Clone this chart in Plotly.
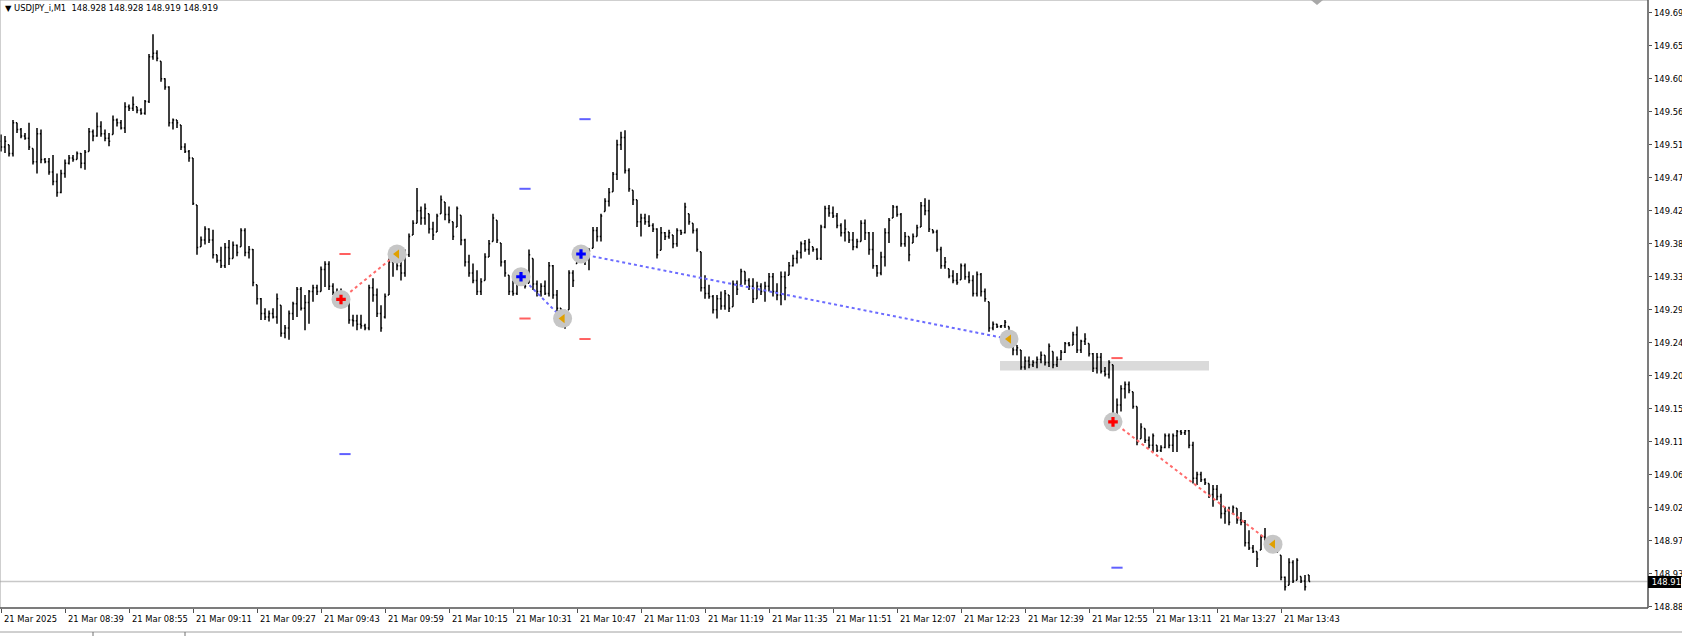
import plotly.graph_objects as go

# ---------------- data (USDJPY_i, M1, bars from 08:23) ----------------
bar_index = list(range(328))

opens = [149.520,149.512,149.515,149.503,149.545,149.536,149.527,149.524,149.510,149.492,
149.530,149.495,149.492,149.478,149.465,149.450,149.476,149.490,149.497,149.495,
149.503,149.490,149.506,149.533,149.527,149.540,149.530,149.524,149.529,149.549,
149.545,149.538,149.567,149.565,149.567,149.562,149.558,149.574,149.635,149.640,
149.629,149.605,149.594,149.545,149.549,149.542,149.512,149.506,149.497,149.433,
149.376,149.385,149.400,149.385,149.365,149.357,149.350,149.375,149.360,149.378,
149.376,149.398,149.368,149.372,149.324,149.305,149.285,149.280,149.285,149.280,
149.296,149.258,149.265,149.285,149.298,149.318,149.292,149.300,149.315,149.320,
149.315,149.345,149.352,149.322,149.314,149.310,149.305,149.298,149.276,149.275,
149.270,149.268,149.265,149.320,149.310,149.285,149.280,149.310,149.355,149.368,
149.350,149.340,149.365,149.392,149.408,149.425,149.415,149.421,149.400,149.396,
149.421,149.437,149.420,149.410,149.403,149.419,149.385,149.355,149.340,149.330,
149.315,149.330,149.362,149.383,149.412,149.381,149.355,149.337,149.315,149.312,
149.325,149.333,149.326,149.360,149.325,149.315,149.322,149.312,149.350,149.310,
149.292,149.282,149.290,149.340,149.353,149.371,149.365,149.360,149.374,149.398,
149.390,149.424,149.438,149.451,149.475,149.515,149.525,149.480,149.453,149.440,
149.410,149.415,149.410,149.405,149.400,149.371,149.395,149.390,149.392,149.380,
149.398,149.395,149.421,149.408,149.398,149.369,149.320,149.312,149.308,149.290,
149.305,149.295,149.310,149.294,149.325,149.324,149.342,149.330,149.322,149.305,
149.322,149.315,149.322,149.335,149.315,149.310,149.335,149.337,149.350,149.360,
149.368,149.380,149.372,149.376,149.372,149.360,149.403,149.428,149.422,149.418,
149.405,149.395,149.396,149.385,149.376,149.383,149.408,149.395,149.372,149.350,
149.340,149.362,149.395,149.415,149.430,149.420,149.380,149.390,149.381,149.390,
149.403,149.432,149.425,149.399,149.396,149.372,149.350,149.346,149.336,149.330,
149.331,149.350,149.335,149.330,149.312,149.338,149.315,149.301,149.265,149.270,
149.267,149.268,149.267,149.244,149.235,149.235,149.212,149.220,149.215,149.218,
149.222,149.228,149.218,149.233,149.215,149.222,149.232,149.244,149.242,149.256,
149.235,149.247,149.244,149.230,149.210,149.225,149.206,149.202,149.215,149.137,
149.160,149.182,149.188,149.178,149.158,149.114,149.128,149.112,149.105,149.105,
149.098,149.102,149.118,149.105,149.118,149.124,149.122,149.125,149.105,149.060,
149.065,149.058,149.053,149.038,149.045,149.035,149.012,149.015,149.012,149.019,
149.003,149.000,148.972,148.965,148.960,148.962,148.980,148.975,148.970,148.967,
148.955,148.925,148.914,148.945,148.921,148.926,148.920,148.928]

highs = [149.529,149.527,149.515,149.549,149.545,149.538,149.531,149.545,149.510,149.538,
149.536,149.497,149.497,149.501,149.476,149.481,149.495,149.501,149.501,149.506,
149.504,149.508,149.538,149.536,149.559,149.547,149.536,149.531,149.555,149.551,
149.549,149.573,149.570,149.581,149.567,149.565,149.576,149.639,149.666,149.644,
149.629,149.606,149.595,149.551,149.549,149.542,149.517,149.508,149.497,149.433,
149.390,149.404,149.401,149.399,149.365,149.376,149.381,149.385,149.383,149.379,
149.401,149.401,149.377,149.373,149.324,149.306,149.292,149.289,149.292,149.312,
149.296,149.269,149.289,149.301,149.321,149.321,149.310,149.317,149.324,149.324,
149.349,149.356,149.356,149.326,149.319,149.319,149.312,149.308,149.283,149.283,
149.283,149.271,149.324,149.333,149.319,149.296,149.312,149.360,149.376,149.372,
149.374,149.372,149.394,149.412,149.456,149.431,149.435,149.421,149.410,149.421,
149.446,149.437,149.431,149.410,149.431,149.419,149.387,149.365,149.353,149.344,
149.333,149.367,149.385,149.421,149.412,149.381,149.358,149.337,149.330,149.330,
149.342,149.333,149.372,149.360,149.330,149.326,149.330,149.355,149.351,149.317,
149.292,149.290,149.344,149.344,149.376,149.371,149.367,149.374,149.403,149.403,
149.421,149.442,149.456,149.478,149.522,149.533,149.535,149.483,149.453,149.440,
149.421,149.421,149.419,149.408,149.401,149.403,149.396,149.399,149.392,149.401,
149.399,149.436,149.421,149.408,149.401,149.369,149.337,149.324,149.310,149.310,
149.315,149.317,149.310,149.330,149.330,149.346,149.342,149.333,149.333,149.328,
149.326,149.328,149.340,149.340,149.326,149.342,149.342,149.355,149.365,149.371,
149.383,149.385,149.387,149.376,149.374,149.406,149.432,149.433,149.431,149.422,
149.408,149.413,149.396,149.396,149.387,149.412,149.413,149.396,149.396,149.351,
149.369,149.401,149.415,149.433,149.432,149.422,149.396,149.390,149.394,149.406,
149.437,149.442,149.440,149.399,149.399,149.376,149.362,149.346,149.344,149.340,
149.353,149.353,149.342,149.337,149.342,149.340,149.319,149.301,149.274,149.271,
149.269,149.276,149.267,149.244,149.242,149.235,149.226,149.226,149.221,149.226,
149.233,149.228,149.244,149.233,149.226,149.235,149.246,149.246,149.260,149.267,
149.249,149.258,149.244,149.231,149.231,149.231,149.212,149.221,149.215,149.169,
149.187,149.192,149.192,149.178,149.158,149.135,149.128,149.117,149.121,149.105,
149.105,149.121,149.121,149.121,149.126,149.126,149.126,149.126,149.110,149.069,
149.069,149.060,149.053,149.051,149.051,149.039,149.021,149.021,149.023,149.019,
149.014,149.003,148.989,148.969,148.960,148.983,148.992,148.980,148.976,148.967,
148.955,148.926,148.951,148.948,148.951,148.926,148.928,148.928]

lows = [149.506,149.504,149.499,149.499,149.531,149.524,149.522,149.508,149.488,149.476,
149.490,149.490,149.474,149.460,149.444,149.449,149.470,149.488,149.492,149.495,
149.483,149.481,149.506,149.520,149.526,149.526,149.520,149.513,149.529,149.540,
149.536,149.531,149.561,149.561,149.558,149.556,149.556,149.572,149.631,149.629,
149.601,149.590,149.540,149.536,149.538,149.508,149.504,149.492,149.433,149.365,
149.376,149.379,149.381,149.360,149.354,149.347,149.347,149.351,149.360,149.363,
149.376,149.363,149.360,149.322,149.297,149.276,149.276,149.274,149.278,149.271,
149.253,149.251,149.249,149.276,149.280,149.289,149.262,149.271,149.301,149.310,
149.315,149.321,149.317,149.310,149.305,149.301,149.296,149.271,149.267,149.262,
149.264,149.262,149.262,149.301,149.280,149.260,149.278,149.310,149.335,149.344,
149.330,149.335,149.362,149.392,149.408,149.406,149.406,149.394,149.385,149.396,
149.421,149.412,149.408,149.385,149.403,149.378,149.349,149.335,149.326,149.310,
149.310,149.330,149.362,149.383,149.381,149.349,149.335,149.310,149.309,149.310,
149.324,149.319,149.326,149.317,149.308,149.308,149.310,149.308,149.305,149.287,
149.278,149.264,149.290,149.321,149.353,149.355,149.351,149.344,149.374,149.383,
149.383,149.424,149.431,149.451,149.467,149.508,149.476,149.451,149.433,149.403,
149.390,149.406,149.403,149.396,149.360,149.371,149.385,149.387,149.374,149.376,
149.392,149.394,149.406,149.394,149.369,149.315,149.305,149.305,149.285,149.278,
149.290,149.290,149.287,149.294,149.310,149.324,149.324,149.317,149.299,149.305,
149.310,149.301,149.315,149.308,149.303,149.296,149.303,149.337,149.349,149.353,
149.360,149.369,149.365,149.369,149.358,149.358,149.401,149.417,149.415,149.401,
149.390,149.383,149.381,149.371,149.374,149.383,149.385,149.365,149.346,149.335,
149.337,149.349,149.381,149.415,149.417,149.376,149.376,149.356,149.381,149.390,
149.403,149.419,149.396,149.394,149.369,149.346,149.346,149.333,149.326,149.324,
149.331,149.331,149.326,149.308,149.308,149.308,149.301,149.260,149.262,149.265,
149.265,149.265,149.242,149.228,149.228,149.208,149.208,149.210,149.212,149.210,
149.217,149.214,149.212,149.210,149.212,149.221,149.231,149.240,149.242,149.231,
149.231,149.242,149.226,149.205,149.203,149.203,149.199,149.196,149.135,149.130,
149.151,149.169,149.176,149.155,149.105,149.114,149.108,149.101,149.096,149.096,
149.096,149.101,149.101,149.096,149.096,149.119,149.119,149.101,149.053,149.051,
149.055,149.051,149.033,149.021,149.030,149.005,148.998,148.996,149.012,148.998,
148.996,148.967,148.962,148.958,148.939,148.962,148.967,148.967,148.962,148.958,
148.921,148.907,148.914,148.917,148.921,148.917,148.907,148.919]

closes = [149.512,149.520,149.503,149.545,149.536,149.527,149.524,149.512,149.492,149.530,
149.495,149.492,149.478,149.465,149.450,149.476,149.490,149.497,149.495,149.503,
149.490,149.505,149.533,149.527,149.540,149.530,149.524,149.520,149.549,149.545,
149.538,149.567,149.565,149.570,149.562,149.558,149.574,149.635,149.640,149.633,
149.605,149.594,149.545,149.549,149.545,149.512,149.506,149.497,149.435,149.375,
149.385,149.400,149.385,149.365,149.357,149.350,149.375,149.360,149.378,149.368,
149.398,149.368,149.372,149.327,149.305,149.285,149.280,149.285,149.280,149.305,
149.258,149.265,149.285,149.298,149.318,149.292,149.300,149.315,149.320,149.315,
149.345,149.352,149.322,149.314,149.310,149.305,149.298,149.276,149.275,149.270,
149.268,149.265,149.320,149.310,149.285,149.265,149.308,149.355,149.368,149.350,
149.340,149.365,149.390,149.408,149.425,149.415,149.428,149.400,149.392,149.418,
149.440,149.420,149.412,149.390,149.428,149.385,149.355,149.340,149.330,149.315,
149.328,149.362,149.380,149.415,149.385,149.355,149.340,149.315,149.312,149.325,
149.335,149.322,149.365,149.325,149.315,149.322,149.312,149.350,149.310,149.292,
149.282,149.270,149.340,149.330,149.372,149.365,149.360,149.370,149.398,149.390,
149.418,149.438,149.450,149.475,149.515,149.525,149.480,149.455,149.440,149.410,
149.415,149.410,149.405,149.400,149.365,149.395,149.390,149.395,149.380,149.398,
149.395,149.430,149.410,149.398,149.372,149.320,149.312,149.308,149.290,149.305,
149.295,149.312,149.292,149.325,149.318,149.342,149.330,149.322,149.305,149.322,
149.315,149.322,149.335,149.315,149.310,149.335,149.320,149.350,149.360,149.368,
149.380,149.372,149.382,149.372,149.360,149.403,149.428,149.422,149.418,149.405,
149.395,149.400,149.385,149.376,149.383,149.408,149.395,149.372,149.350,149.340,
149.362,149.395,149.412,149.430,149.420,149.380,149.390,149.365,149.390,149.402,
149.432,149.425,149.400,149.396,149.372,149.350,149.355,149.336,149.330,149.327,
149.350,149.335,149.330,149.312,149.338,149.315,149.305,149.265,149.270,149.267,
149.268,149.273,149.246,149.235,149.238,149.212,149.220,149.215,149.218,149.222,
149.228,149.218,149.240,149.215,149.222,149.232,149.244,149.242,149.256,149.235,
149.247,149.250,149.230,149.210,149.225,149.206,149.202,149.218,149.137,149.160,
149.182,149.188,149.180,149.158,149.110,149.130,149.112,149.105,149.118,149.098,
149.102,149.118,149.105,149.118,149.124,149.122,149.125,149.105,149.060,149.065,
149.058,149.054,149.038,149.045,149.035,149.012,149.015,149.000,149.020,149.003,
149.000,148.972,148.965,148.960,148.950,148.980,148.975,148.970,148.968,148.960,
148.925,148.912,148.945,148.920,148.948,148.920,148.912,148.919]

time_tick_index = [0, 16, 32, 48, 64, 80, 96, 112, 128, 144, 160, 176, 192, 208,
                   224, 240, 256, 272, 288, 304, 320]
time_tick_labels = ["21 Mar 2025", "21 Mar 08:39", "21 Mar 08:55", "21 Mar 09:11",
                    "21 Mar 09:27", "21 Mar 09:43", "21 Mar 09:59", "21 Mar 10:15",
                    "21 Mar 10:31", "21 Mar 10:47", "21 Mar 11:03", "21 Mar 11:19",
                    "21 Mar 11:35", "21 Mar 11:51", "21 Mar 12:07", "21 Mar 12:23",
                    "21 Mar 12:39", "21 Mar 12:55", "21 Mar 13:11", "21 Mar 13:27",
                    "21 Mar 13:43"]

price_ticks = [149.695, 149.650, 149.605, 149.560, 149.515, 149.470, 149.425, 149.380,
               149.335, 149.290, 149.245, 149.200, 149.155, 149.110, 149.065, 149.020,
               148.975, 148.930, 148.885]
price_tick_labels = ["149.69", "149.65", "149.60", "149.56", "149.51", "149.47", "149.42",
                     "149.38", "149.33", "149.29", "149.24", "149.20", "149.15", "149.11",
                     "149.06", "149.02", "148.97", "148.93", "148.88"]

# trades
trade_side = ["sell", "buy", "buy", "sell"]
trade_open_index = [85, 130, 145, 278]
trade_open_price = [149.304, 149.335, 149.366, 149.137]
trade_close_index = [99, 140.4, 252, 318]
trade_close_price = [149.366, 149.278, 149.250, 148.970]
trade_sl = [149.366, 149.278, 149.250, 149.224]
trade_tp = [149.093, 149.455, 149.550, 148.938]

zone_start, zone_end = 249.75, 302
zone_low, zone_high = 149.207, 149.220

last_price = 148.919
last_price_label = "148.91"
title_text = "USDJPY_i,M1  148.928 148.928 148.919 148.919"

# ---------------- figure ----------------
W, H = 1682, 636
ML, MR, MT, MB = 0, 34, 0, 28
PLOT_W = W - ML - MR
PLOT_H = H - MT - MB
X_RANGE = [-0.25, 411.75]
Y_RANGE = [148.883, 149.7126]
FONT = "DejaVu Sans"
FSIZE = 8.4


def px2paper_y(py):
    return (MT + PLOT_H - py) / PLOT_H


def px2paper_x(px):
    return (px - ML) / PLOT_W


fig = go.Figure()

fig.add_trace(go.Ohlc(
    x=bar_index, open=opens, high=highs, low=lows, close=closes,
    increasing=dict(line=dict(color="#000000", width=1.5)),
    decreasing=dict(line=dict(color="#000000", width=1.5)),
    tickwidth=0.3, hoverinfo="skip", showlegend=False,
))

RED_LINE = "#ff6b6b"
BLUE_LINE = "#6b6bff"

# connection lines (dotted)
for side, ox, op, cx, cp in zip(trade_side, trade_open_index, trade_open_price,
                                trade_close_index, trade_close_price):
    fig.add_trace(go.Scatter(
        x=[ox, cx], y=[op, cp], mode="lines",
        line=dict(color=RED_LINE if side == "sell" else BLUE_LINE, width=2, dash="dot"),
        hoverinfo="skip", showlegend=False))

# gray halos
fig.add_trace(go.Scatter(
    x=trade_open_index + trade_close_index,
    y=trade_open_price + trade_close_price,
    mode="markers", marker=dict(symbol="circle", size=19, color="#c6c6c6"),
    hoverinfo="skip", showlegend=False))

# open markers
fig.add_trace(go.Scatter(
    x=trade_open_index, y=trade_open_price, mode="markers",
    marker=dict(symbol="cross", size=8,
                color=["#ff0000" if s == "sell" else "#0000ff" for s in trade_side],
                line=dict(width=0)),
    hoverinfo="skip", showlegend=False))

# close markers
fig.add_trace(go.Scatter(
    x=trade_close_index, y=trade_close_price, mode="markers",
    marker=dict(symbol="triangle-left", size=8, color="#e0a000", line=dict(width=0)),
    hoverinfo="skip", showlegend=False))

# SL / TP level dashes
lvl_x = [i + 1 for i in trade_open_index]
fig.add_trace(go.Scatter(
    x=lvl_x, y=trade_sl, mode="markers",
    marker=dict(symbol="line-ew", size=8, line=dict(color="#ff6060", width=2)),
    hoverinfo="skip", showlegend=False))
fig.add_trace(go.Scatter(
    x=lvl_x, y=trade_tp, mode="markers",
    marker=dict(symbol="line-ew", size=8, line=dict(color="#6060ff", width=2)),
    hoverinfo="skip", showlegend=False))

shapes = []
# zone rectangle
shapes.append(dict(type="rect", xref="x", yref="y", x0=zone_start, x1=zone_end,
                   y0=zone_low, y1=zone_high, fillcolor="#dadada",
                   line=dict(width=0), layer="below"))
# current price line
shapes.append(dict(type="line", xref="paper", yref="y", x0=0, x1=1,
                   y0=last_price, y1=last_price,
                   line=dict(color="#c8c8c8", width=1.5), layer="below"))

# borders
shapes.append(dict(type="line", xref="paper", yref="paper", x0=0, x1=0, y0=0, y1=1,
                   line=dict(color="#a0a0a0", width=1)))
shapes.append(dict(type="line", xref="paper", yref="paper", x0=0, x1=1, y0=1, y1=1,
                   line=dict(color="#a0a0a0", width=1)))
shapes.append(dict(type="line", xref="paper", yref="paper", x0=1, x1=1, y0=0, y1=1,
                   line=dict(color="#505050", width=1.5)))
shapes.append(dict(type="line", xref="paper", yref="paper", x0=0, x1=1, y0=0, y1=0,
                   line=dict(color="#505050", width=1.5)))

# chart-shift marker (top)
shapes.append(dict(type="path", xref="x", yref="paper",
                   path=f"M 327.5 1 L 330.5 1 L 329 {px2paper_y(5)} Z",
                   fillcolor="#a8a8a8", line=dict(width=0)))

# bottom tab bar
shapes.append(dict(type="line", xref="paper", yref="paper", x0=0, x1=px2paper_x(W),
                   y0=px2paper_y(632), y1=px2paper_y(632),
                   line=dict(color="#a0a0a0", width=1)))
for tab_px in (93, 185):
    shapes.append(dict(type="line", xref="paper", yref="paper",
                       x0=px2paper_x(tab_px), x1=px2paper_x(tab_px),
                       y0=px2paper_y(632), y1=px2paper_y(636),
                       line=dict(color="#707070", width=1)))

annotations = []
# time labels (left-aligned just right of their tick)
for ti, tl in zip(time_tick_index, time_tick_labels):
    annotations.append(dict(xref="x", yref="paper", x=ti, y=px2paper_y(619),
                            xanchor="left", yanchor="middle", xshift=1,
                            text=tl, showarrow=False,
                            font=dict(family=FONT, size=FSIZE, color="#000000")))
# price labels
for pv, pl in zip(price_ticks, price_tick_labels):
    annotations.append(dict(xref="paper", yref="y", x=px2paper_x(1652), y=pv,
                            xanchor="left", yanchor="middle",
                            text=pl, showarrow=False,
                            font=dict(family=FONT, size=FSIZE, color="#000000")))
# current price label (black box drawn over the neighbouring tick label)
annotations.append(dict(xref="paper", yref="y", x=1, y=last_price,
                        xanchor="left", yanchor="middle", text=last_price_label,
                        showarrow=False, width=33, height=12, align="right",
                        bgcolor="#000000", borderpad=0, borderwidth=0,
                        font=dict(family=FONT, size=FSIZE, color="#ffffff")))
annotations.append(dict(xref="paper", yref="paper", x=px2paper_x(3), y=px2paper_y(1),
                        xanchor="left", yanchor="top", showarrow=False,
                        text="\u25BC " + title_text.replace("  ", "&nbsp; "),
                        font=dict(family=FONT, size=FSIZE, color="#000000")))

fig.update_layout(
    width=W, height=H,
    margin=dict(l=ML, r=MR, t=MT, b=MB, pad=0, autoexpand=False),
    paper_bgcolor="#ffffff", plot_bgcolor="#ffffff",
    showlegend=False, hovermode=False,
    shapes=shapes, annotations=annotations,
    xaxis=dict(range=X_RANGE, showgrid=False, zeroline=False, showline=False,
               automargin=False, rangeslider=dict(visible=False),
               tickmode="array", tickvals=time_tick_index,
               ticks="outside", ticklen=4, tickwidth=1, tickcolor="#505050",
               showticklabels=False),
    yaxis=dict(range=Y_RANGE, side="right", showgrid=False, zeroline=False,
               showline=False, automargin=False,
               tickmode="array", tickvals=price_ticks,
               ticks="outside", ticklen=3, tickwidth=1, tickcolor="#505050",
               showticklabels=False),
)

# remove the default page margin so the figure sits at the window's top-left corner
fig.write_html("out.html",
               config={"displayModeBar": False, "staticPlot": True},
               post_script="document.body.style.margin='0px';"
                           "document.body.style.overflow='hidden';")
